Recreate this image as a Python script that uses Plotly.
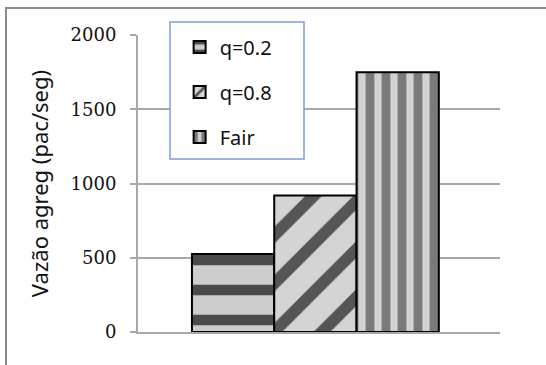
import plotly.graph_objects as go

# Aggregate throughput per scheduling policy
series_names = ["q=0.2", "q=0.8", "Fair"]
throughput = [525, 920, 1750]
category = [""]

y_ticks = [0, 500, 1000, 1500, 2000]

# Fill styles for each bar (striped look)
patterns = [
    dict(shape="-", fgcolor="#4a4a4a", bgcolor="#cdcdcd", size=30, solidity=0.35),
    dict(shape="/", fgcolor="#555555", bgcolor="#d4d4d4", size=34, solidity=0.35),
    dict(shape="|", fgcolor="#7a7a7a", bgcolor="#d2d2d2", size=16, solidity=0.55),
]

fig = go.Figure()
for name, val, pat in zip(series_names, throughput, patterns):
    fig.add_trace(go.Bar(
        x=category,
        y=[val],
        name=name,
        legendgroup=name,
        marker=dict(color="#bdbdbd", pattern=dict(fillmode="replace", **pat),
                    line=dict(color="black", width=2)),
    ))

fig.update_layout(
    width=546,
    height=365,
    paper_bgcolor="white",
    plot_bgcolor="white",
    margin=dict(l=138, r=46, t=35, b=33),
    barmode="group",
    bargap=0.318,
    bargroupgap=0,
    showlegend=True,
    legend=dict(
        x=0.115, y=1.025, xanchor="left", yanchor="top",
        font=dict(family="Noto Sans", size=20, color="#111"),
        bgcolor="rgba(0,0,0,0)",
        borderwidth=0,
        tracegroupgap=16,
        itemwidth=30,
    ),
    xaxis=dict(
        range=[-0.49, 0.51],
        showticklabels=False,
        ticks="",
        showgrid=False,
        showline=True,
        linecolor="#a8a8a8",
        linewidth=2,
        zeroline=False,
    ),
    yaxis=dict(
        range=[0, 2000],
        tickvals=y_ticks,
        ticks="outside",
        ticklen=6,
        tickwidth=2,
        tickcolor="#a8a8a8",
        ticklabelstandoff=10,
        tickfont=dict(family="DejaVu Serif", size=18, color="#111"),
        showgrid=True,
        gridcolor="#a8a8a8",
        gridwidth=2,
        showline=True,
        linecolor="#a8a8a8",
        linewidth=2,
        zeroline=False,
        title=dict(text="Vazão agreg (pac/seg)", standoff=16,
                   font=dict(family="Noto Sans", size=22, color="#111")),
    ),
    shapes=[
        # legend frame
        dict(type="rect", xref="paper", yref="paper",
             x0=(170 - 138) / 362, x1=(304 - 138) / 362,
             y0=(332 - 159) / 297, y1=(332 - 22) / 297,
             line=dict(color="#7f9fcc", width=1.5), fillcolor="white", layer="above"),
        # outer chart frame
        dict(type="rect", xref="paper", yref="paper",
             x0=(6 - 138) / 362, x1=2,
             y0=-1, y1=(332 - 8) / 297,
             line=dict(color="#8a8a8a", width=2), fillcolor="rgba(0,0,0,0)"),
    ],
)

fig.write_html("out.html")
